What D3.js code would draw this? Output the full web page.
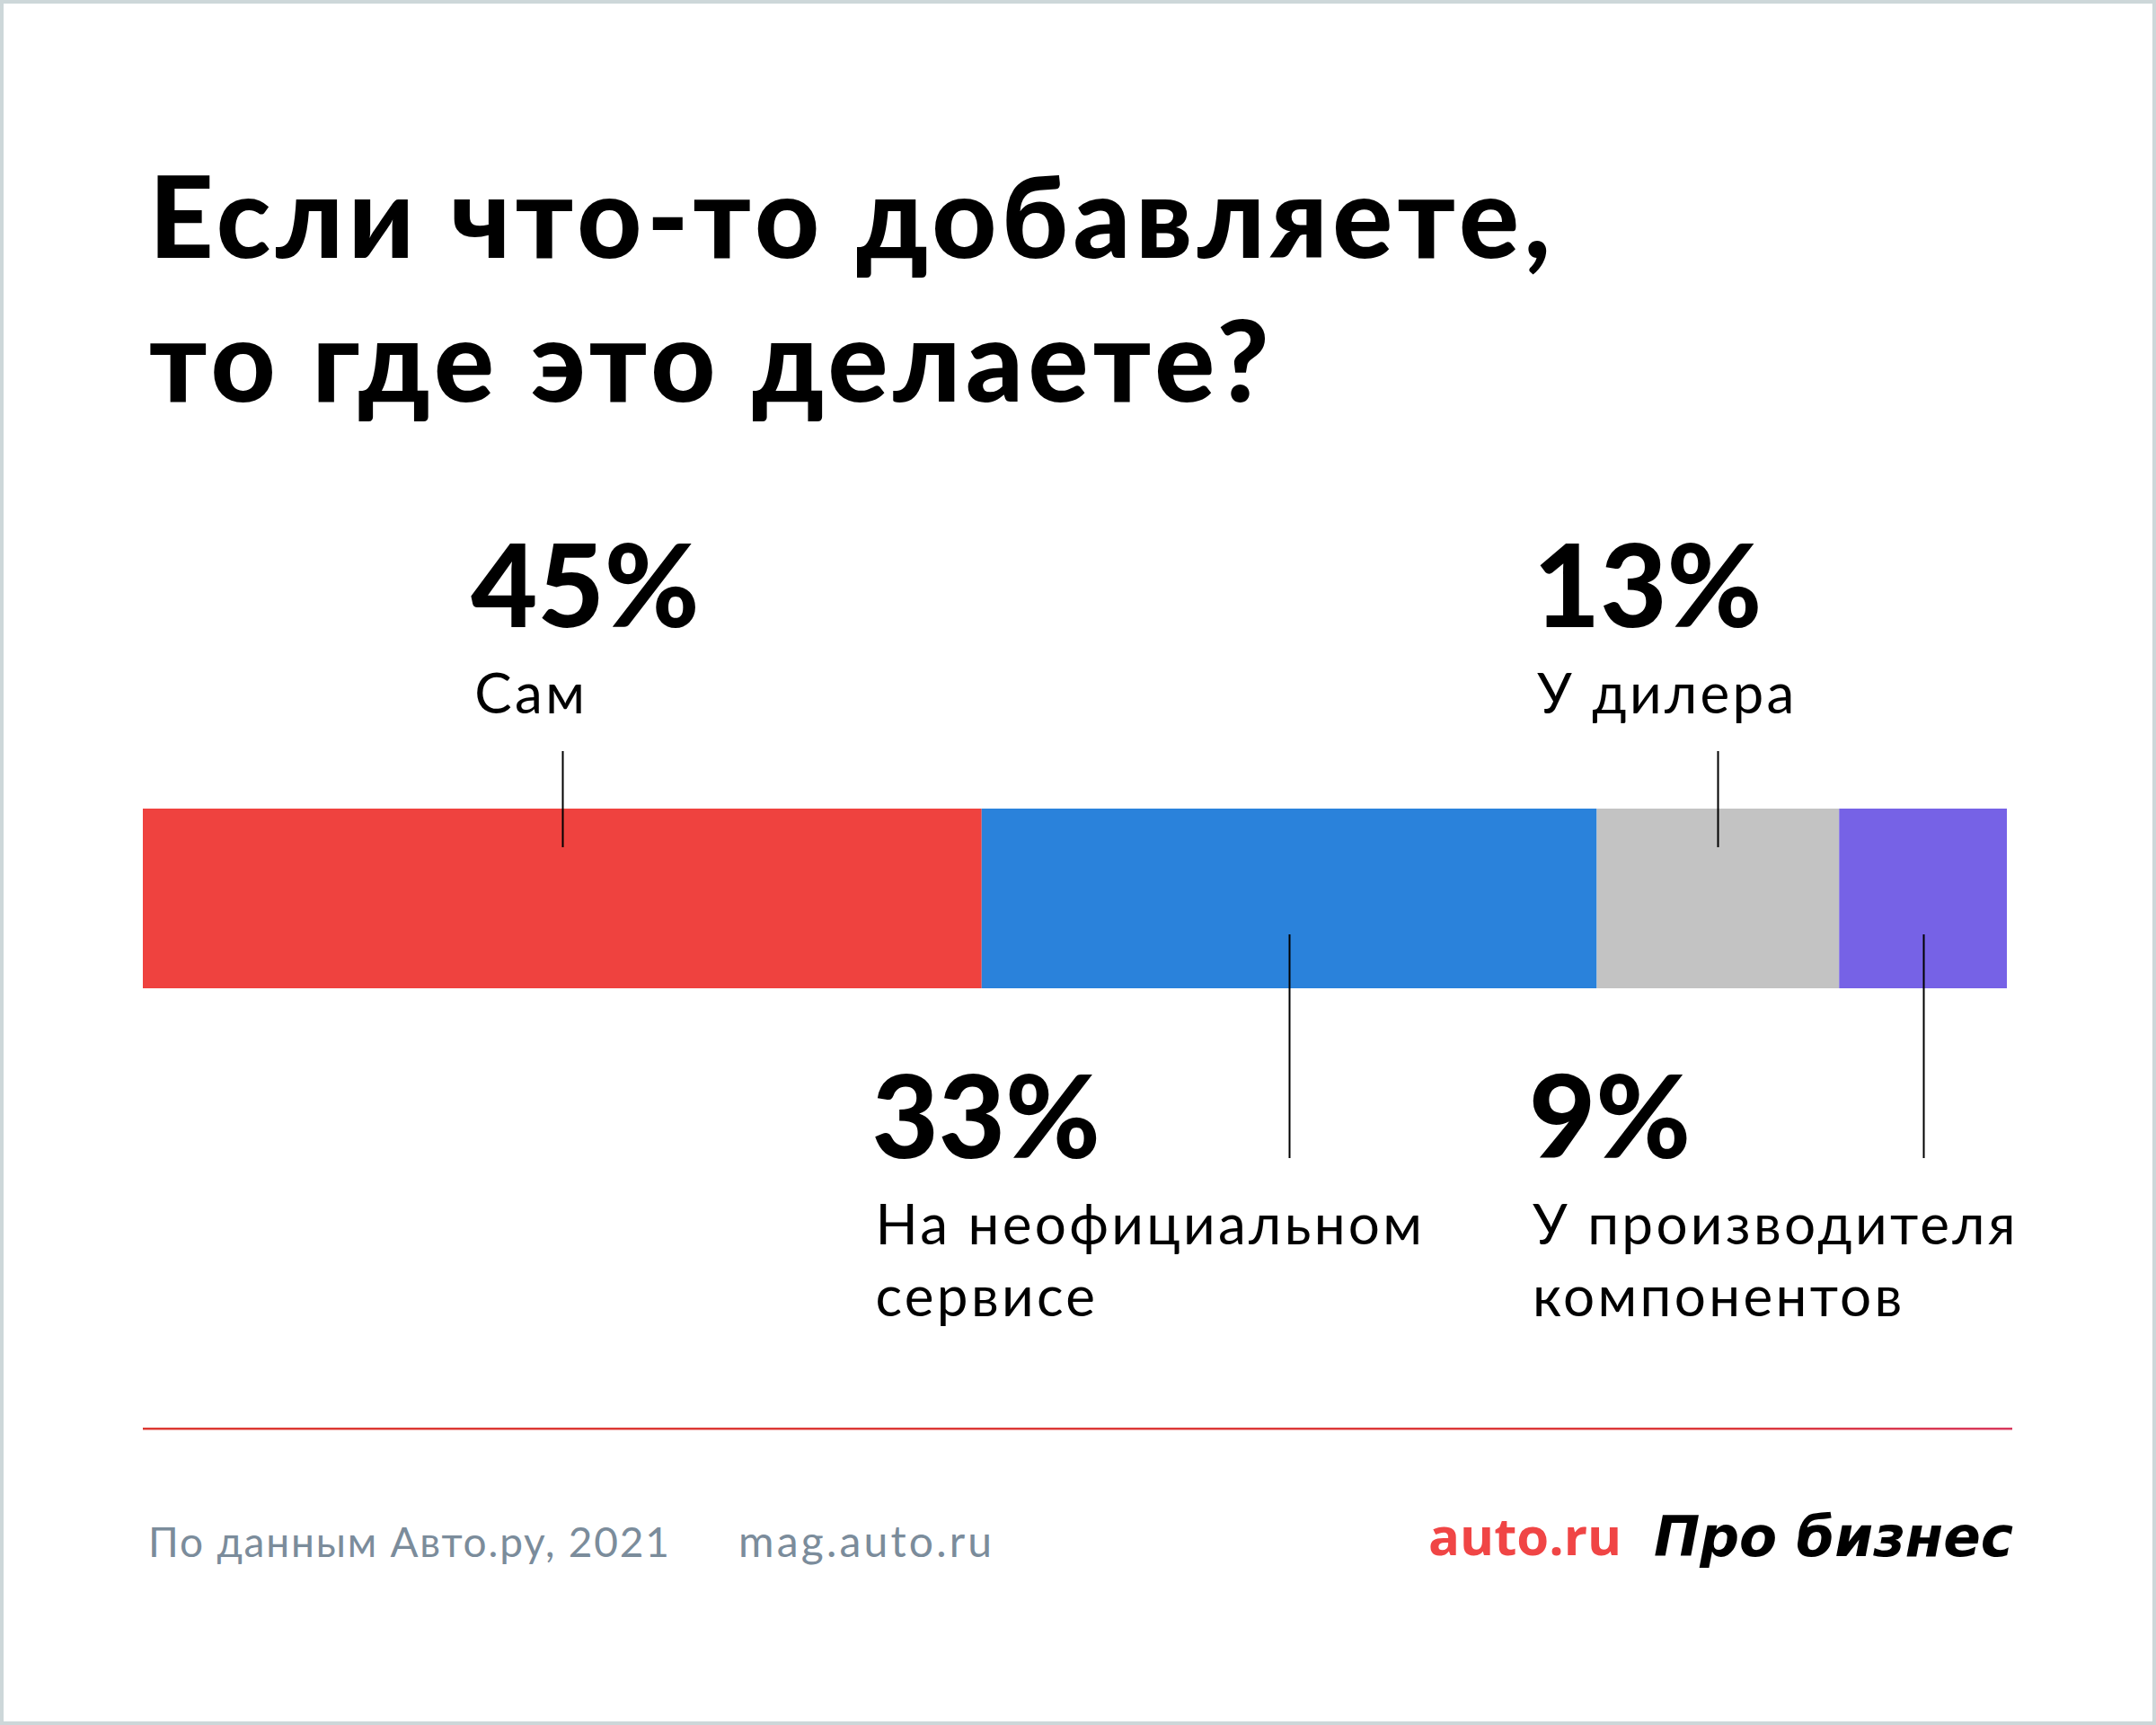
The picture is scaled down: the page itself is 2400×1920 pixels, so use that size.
<!DOCTYPE html>
<html>
<head>
<meta charset="utf-8">
<script src="https://cdn.jsdelivr.net/npm/d3@7"></script>
<style>
  body { margin: 0; background: #fff; }
  svg { display: block; }
</style>
</head>
<body>
<script>
var width = 2400;
var height = 1920;

// ------- data --------
var categories = ['Сам', 'На неофициальном сервисе', 'У дилера', 'У производителя компонентов'];
var shares = [45, 33, 13, 9];
var labelLines = [['Сам'], ['На неофициальном', 'сервисе'], ['У дилера'], ['У производителя', 'компонентов']];
var labelSide = ['top', 'bottom', 'top', 'bottom'];
// where the label text starts, on the same 0-100 scale as the bar
var labelAt = [17.8, 39.3, 74.8, 74.55];
var colors = ['#ef423f', '#2a82db', '#c3c3c3', '#7662e6'];

var titleLines = ['Если что-то добавляете,', 'то где это делаете?'];
var source = 'По данным Авто.ру, 2021';
var site = 'mag.auto.ru';

// ------- svg --------
var svg = d3.select('body')
    .append('svg')
    .attr('width', width)
    .attr('height', height);

svg.append('rect')
    .attr('x', 2).attr('y', 2)
    .attr('width', width - 4).attr('height', height - 4)
    .attr('fill', '#fff')
    .attr('stroke', '#cdd7d9')
    .attr('stroke-width', 4);

var heavy = 'Lato, "Open Sans", sans-serif';
var book = 'Lato, "Open Sans", sans-serif';

// title
svg.selectAll('text.title')
    .data(titleLines)
    .enter()
    .append('text')
    .attr('class', 'title')
    .attr('x', 166)
    .attr('y', function(d, i) { return 287 + i * 160; })
    .attr('font-family', heavy)
    .attr('font-weight', 900)
    .attr('font-size', 125)
    .attr('letter-spacing', 5.5)
    .attr('fill', '#000')
    .text(function(d) { return d; });

// scales
var x = d3.scaleLinear().domain([0, 100]).range([159, 2234]);
var y = d3.scaleBand().domain(['bar']).range([900, 1100]);

var ends = d3.cumsum(shares);
var segs = shares.map(function(v, i) {
    return { name: categories[i], value: v, x0: ends[i] - v, x1: ends[i], i: i };
});

svg.selectAll('rect.seg')
    .data(segs)
    .enter()
    .append('rect')
    .attr('class', 'seg')
    .attr('x', function(d) { return x(d.x0); })
    .attr('y', y('bar'))
    .attr('width', function(d) { return x(d.x1) - x(d.x0); })
    .attr('height', y.bandwidth())
    .attr('fill', function(d) { return colors[d.i]; });

// leader lines, from the middle of each segment
svg.selectAll('line.lead')
    .data(segs)
    .enter()
    .append('line')
    .attr('class', 'lead')
    .attr('x1', function(d) { return Math.round(x((d.x0 + d.x1) / 2)) + 0.5; })
    .attr('x2', function(d) { return Math.round(x((d.x0 + d.x1) / 2)) + 0.5; })
    .attr('y1', function(d) { return labelSide[d.i] == 'top' ? 836 : 1040; })
    .attr('y2', function(d) { return labelSide[d.i] == 'top' ? 943 : 1289; })
    .attr('stroke', '#000')
    .attr('stroke-width', 2);

// labels
var lab = svg.selectAll('g.lab')
    .data(segs)
    .enter()
    .append('g')
    .attr('class', 'lab')
    .attr('transform', function(d) {
        var top = labelSide[d.i] == 'top' ? 698 : 1289;
        return 'translate(' + x(labelAt[d.i]) + ',' + top + ')';
    });

lab.append('text')
    .attr('x', -4)
    .attr('font-family', heavy)
    .attr('font-weight', 900)
    .attr('font-size', 128)
    .attr('fill', '#000')
    .text(function(d) { return d.value + '%'; });

lab.each(function(d) {
    d3.select(this).selectAll('text.cat')
        .data(labelLines[d.i])
        .enter()
        .append('text')
        .attr('class', 'cat')
        .attr('y', function(t, j) { return 96 + j * 80; })
        .attr('font-family', book)
        .attr('font-weight', 400)
        .attr('font-size', 62)
        .attr('letter-spacing', 3.3)
        .attr('fill', '#000')
        .text(function(t) { return t; });
});

// divider
var grad = svg.append('defs').append('linearGradient')
    .attr('id', 'rule')
    .attr('x1', '0%').attr('x2', '100%');
grad.append('stop').attr('offset', '0%').attr('stop-color', '#dc3a33');
grad.append('stop').attr('offset', '85%').attr('stop-color', '#dc3a3c');
grad.append('stop').attr('offset', '100%').attr('stop-color', '#d83a5e');

svg.append('rect')
    .attr('x', 159).attr('y', 1589)
    .attr('width', 2240 - 159).attr('height', 2.5)
    .attr('fill', 'url(#rule)');

// footer
svg.append('text')
    .attr('x', 165).attr('y', 1733)
    .attr('font-family', book)
    .attr('font-size', 46)
    .attr('letter-spacing', 1.8)
    .attr('fill', '#7b8c9b')
    .text(source);

svg.append('text')
    .attr('x', 822).attr('y', 1733)
    .attr('font-family', book)
    .attr('font-size', 48)
    .attr('letter-spacing', 3.2)
    .attr('fill', '#7b8c9b')
    .text(site);

svg.append('text')
    .attr('x', 1590).attr('y', 1731)
    .attr('font-family', '"Open Sans", Lato, sans-serif')
    .attr('font-weight', 700)
    .attr('font-size', 58)
    .attr('fill', '#f04545')
    .text('auto.ru');

svg.append('text')
    .attr('x', 1841).attr('y', 1732)
    .attr('font-family', '"DejaVu Sans", sans-serif')
    .attr('font-style', 'italic')
    .attr('font-weight', 700)
    .attr('font-size', 62)
    .attr('textLength', 400)
    .attr('lengthAdjust', 'spacingAndGlyphs')
    .attr('fill', '#000')
    .text('Про бизнес');
</script>
</body>
</html>
